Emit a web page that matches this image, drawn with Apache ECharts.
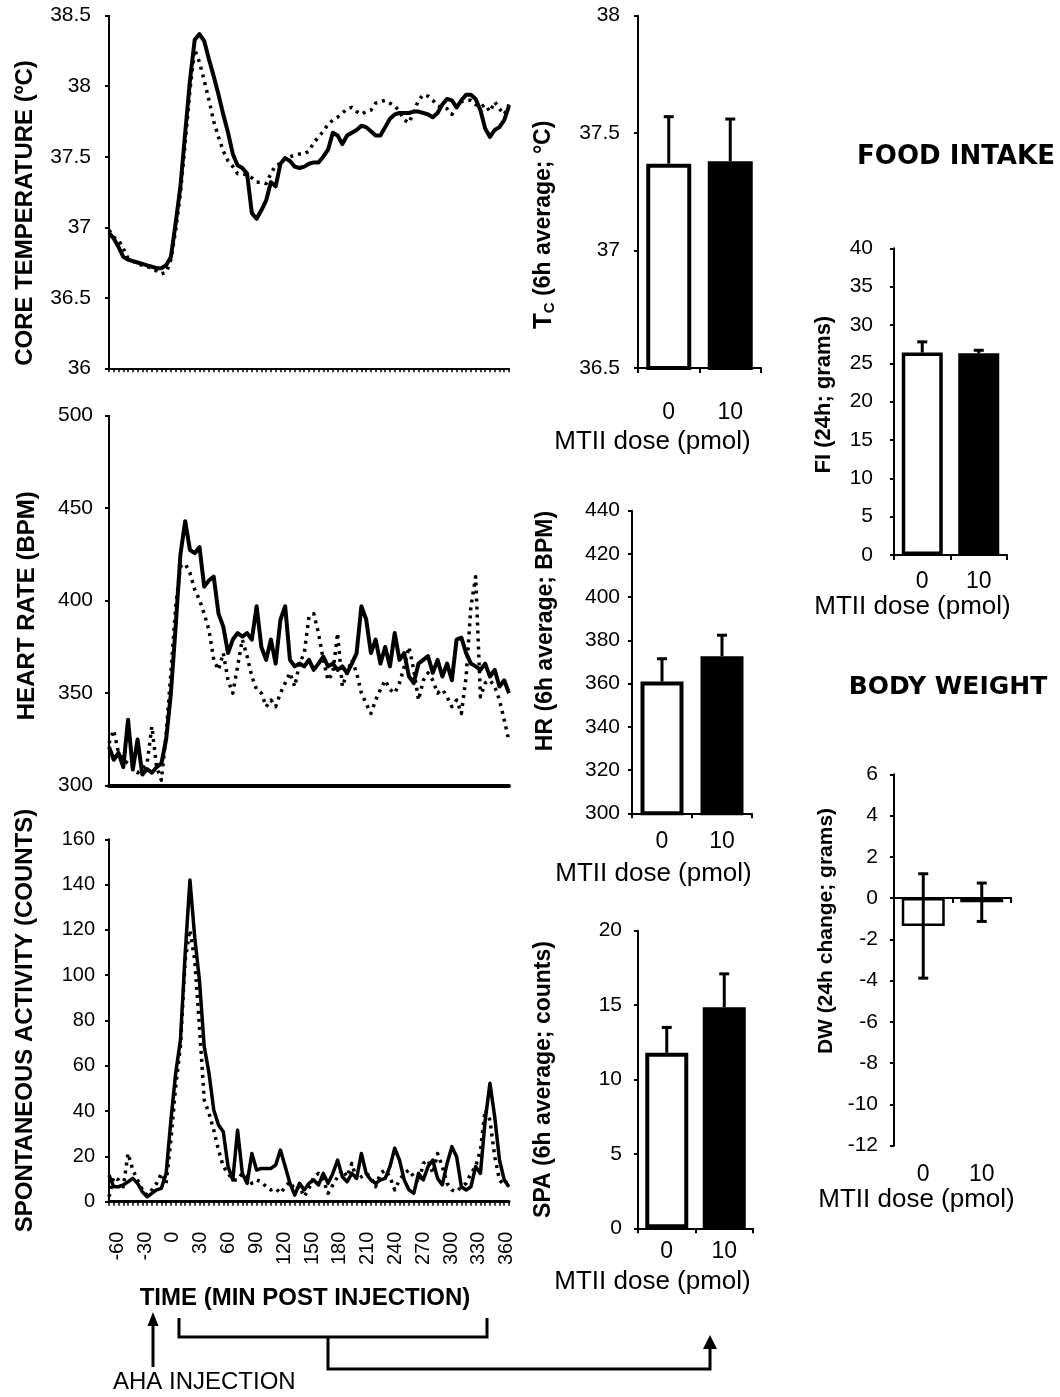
<!DOCTYPE html>
<html><head><meta charset="utf-8">
<script src="https://cdn.jsdelivr.net/npm/echarts@6/dist/echarts.min.js"></script>
<style>html,body{margin:0;padding:0;background:#fff}#c{width:1060px;height:1397px}</style>
</head><body><div id="c"></div>
<script>
// ---------- DATA ----------
const timeMin = [-60,-55,-50,-45,-40,-35,-30,-25,-20,-15,-10,-5,0,5,10,15,20,25,30,35,
 40,45,50,55,60,65,70,75,80,85,90,95,100,105,110,115,120,125,130,135,
 140,145,150,155,160,165,170,175,180,185,190,195,200,205,210,215,220,225,230,235,
 240,245,250,255,260,265,270,275,280,285,290,295,300,305,310,315,320,325,330,335,
 340,345,350,355,360];
const timeTickLabels = [-60,-30,0,30,60,90,120,150,180,210,240,270,300,330,360];

const tempSolid = [36.96,36.92,36.86,36.79,36.77,36.76,36.75,36.74,36.73,36.72,
 36.71,36.71,36.73,36.79,37.03,37.29,37.67,38.04,38.33,38.37,
 38.32,38.19,38.07,37.94,37.80,37.67,37.52,37.44,37.42,37.38,
 37.10,37.06,37.12,37.19,37.32,37.29,37.45,37.49,37.47,37.43,
 37.42,37.43,37.45,37.46,37.46,37.50,37.55,37.67,37.65,37.59,
 37.65,37.67,37.69,37.72,37.71,37.68,37.65,37.65,37.71,37.77,
 37.80,37.81,37.81,37.81,37.82,37.82,37.81,37.80,37.78,37.81,
 37.87,37.91,37.90,37.85,37.90,37.94,37.94,37.91,37.83,37.70,
 37.64,37.69,37.71,37.76,37.86];
const tempDotted = [36.98,36.93,36.91,36.85,36.78,36.76,36.74,36.73,36.72,36.71,
 36.69,36.67,36.68,36.77,36.98,37.24,37.60,37.97,38.26,38.17,
 38.04,37.90,37.75,37.64,37.54,37.47,37.43,37.38,37.38,37.37,
 37.35,37.32,37.32,37.31,37.38,37.44,37.45,37.49,37.50,37.51,
 37.52,37.52,37.54,37.60,37.64,37.68,37.73,37.76,37.78,37.81,
 37.84,37.85,37.82,37.80,37.82,37.83,37.88,37.89,37.90,37.88,
 37.86,37.82,37.76,37.74,37.82,37.90,37.94,37.93,37.90,37.86,
 37.85,37.84,37.80,37.85,37.89,37.90,37.90,37.87,37.85,37.87,
 37.82,37.89,37.84,37.80,37.87];

const hrSolid = [321,314,317.7,310,335.7,308.7,325,306,309,307,
 310,312,325,350,386,425,443,427.5,425.7,429,
 407.6,411,413,393,386,371.7,379,382.5,380.6,382.5,
 379,397,375,368,379,366,389.7,397,368,364.5,
 366,364.5,368,362.6,366,369.8,364.5,366,362.6,364.5,
 360.9,366,371.7,397,390,371.7,379,366,375,364.5,
 382.5,368,371.7,359,355.5,366,368,370,361,368,
 359,366,357,379,380,371.7,366,364.5,362.6,366,
 359,362.6,353.6,357,350];
const hrDotted = [323,330,317.7,314,312,310,307,309,312,332,
 310,303,328,361,397,418.5,420,415,406,400.5,
 393,384,368,362.6,371.7,357,350,364.5,379,370,
 359,352,350,342.7,346.3,342.7,350,355.5,361,353.6,
 366,371.7,391.4,393,382.5,368,357,361,382.5,353.6,
 361,368,361,350,344.5,339,346.3,352,357,352,
 350,355.5,364.5,375,362.6,346.3,357,361,357,350,
 352,348,342.7,346.3,339,359,396.8,413,348,355.5,
 357,353.6,346.3,335.5,324];

const spaSolid = [11.8,6.6,6.6,7.4,8.8,10.3,8.1,4.4,2.2,3.7,
 5.2,5.9,12.5,36,56.7,71.4,109.7,142,116.8,97.6,
 68.5,56.7,40.5,33.9,30.9,15.5,9.6,31.6,12.5,8.1,
 21.3,14,14.7,14.7,14.7,16.2,22.8,15.5,8.1,2.9,
 8.1,5.2,8.1,9.6,7.4,12.5,8.1,12.5,18.4,11,
 8.8,12.5,10.3,21.3,12.5,9.6,8.1,9.6,10.3,15.5,
 23.6,18.4,9.6,5.2,3.7,12.5,9.6,15.5,18.4,10.3,
 7.4,16.9,24.3,19.9,6.6,5.2,6.6,15.5,12.5,36,
 52.3,37.5,18.4,9.6,6.6];
const spaDotted = [2.2,11,9.6,6.6,21.3,14,9.6,5.2,2.9,5.2,
 8.1,12.5,8.1,27.2,50.8,68.5,106.7,120,106.7,77.3,
 44.9,39,31.6,22.8,15.5,12.5,9.6,9.6,12.5,11,
 8.1,9.6,8.8,6.6,5.2,5.9,3.7,6.6,8.8,5.2,
 6.6,2.2,5.9,11,12.5,9.6,3.7,7.4,11,14,
 11,16.9,9.6,11,12.5,11,6.6,12.5,14,11,
 5.2,9.6,12.5,14,11,8.1,16.9,18.4,12.5,21.3,
 15.5,8.1,5.2,4.4,6.6,8.1,12.5,15.5,22.8,40.5,
 36,19.9,9.6,7.4,11];

const doses = ['0','10'];
const tcMean = [37.37, 37.38];
const tcErr = [0.20, 0.18];
const hrMean = [361, 372.7];
const hrErr = [10.5, 9.7];
const spaMean = [11.8, 14.85];
const spaErr = [1.7, 2.25];
const fiMean = [26.4, 26.3];
const fiErr = [1.4, 0.4];
const bwMean = [-1.35, -0.2];
const bwErr = [2.53, 0.93];

// ---------- CHART ----------
const FONT = "'Liberation Sans', Arial, sans-serif";
const K = '#000';
const chart = echarts.init(document.getElementById('c'), null, {renderer:'canvas'});
const pairs = (xs, ys) => xs.map((x, i) => [x, ys[i]]);

function yAx(gi, min, max, interval, o) {
  return {type:'value', gridIndex:gi, min:min, max:max, interval:interval,
    axisLine:{show:true, onZero:false, lineStyle:{color:K, width:2}},
    axisTick:{show:true, length:4, lineStyle:{color:K, width:2}},
    splitLine:{show:false},
    axisLabel:{color:K, fontFamily:FONT, fontSize:o.ls || 21, margin:o.lm},
    name:o.name, nameLocation:'middle', nameGap:o.ng, nameRotate:90,
    nameTextStyle:{color:K, fontFamily:FONT, fontWeight:'bold', fontSize:o.ns || 24,
      padding:o.pad || 0, rich:o.rich}
  };
}
function timeAx(gi, o) {
  return {type:'value', gridIndex:gi, min:-60, max:360, interval:5, position:'bottom',
    axisLine:{show:true, onZero:false, lineStyle:{color:K, width:o.lw}},
    axisTick:{show:o.ticks, length:4, lineStyle:{color:K, width:1.5}},
    axisLabel:{show:false}, splitLine:{show:false}};
}
function catX(gi, o) {
  return {type:'category', gridIndex:gi, data:doses, position:'bottom',
    axisLine:{show:o.line !== false, onZero:!!o.onZero, lineStyle:{color:K, width:2}},
    axisTick:{show:o.line !== false, length:5, lineStyle:{color:K, width:2}},
    axisLabel:{show:o.labels !== false, color:K, fontFamily:FONT, fontSize:23, margin:o.lm},
    splitLine:{show:false},
    name:o.name, nameLocation:'middle', nameGap:o.ng,
    nameTextStyle:{color:K, fontFamily:FONT, fontSize:26, padding:[0, o.pr || 0, 0, 0]}};
}
function lineS(xi, yi, ys, dotted, w) {
  return {type:'line', xAxisIndex:xi, yAxisIndex:yi, data:pairs(timeMin, ys), symbol:'none',
    silent:true, animation:false,
    lineStyle:{color:K, width:w, type:dotted ? [3, 5] : 'solid', cap:'butt', join:'round'}};
}
function barS(xi, yi, means, bw, border) {
  return {type:'bar', xAxisIndex:xi, yAxisIndex:yi, barWidth:bw, animation:false, silent:true,
    data:means.map((v, i) => ({value:v, itemStyle:{color:i ? '#000' : '#fff', borderColor:'#000', borderWidth:border}}))};
}
function errS(xi, yi, means, errs, both) {
  return {type:'custom', xAxisIndex:xi, yAxisIndex:yi, z:5, animation:false, silent:true,
    data:means.map((m, i) => [i, m, errs[i]]),
    renderItem:function(params, api) {
      const c = api.value(0), m = api.value(1), e = api.value(2);
      const top = api.coord([c, m + e]);
      const bot = api.coord([c, both ? m - e : m]);
      const w = 5, st = {stroke:'#000', lineWidth:3};
      const ch = [
        {type:'line', shape:{x1:top[0], y1:top[1], x2:bot[0], y2:bot[1]}, style:st},
        {type:'line', shape:{x1:top[0] - w, y1:top[1], x2:top[0] + w, y2:top[1]}, style:st}];
      if (both) ch.push({type:'line', shape:{x1:bot[0] - w, y1:bot[1], x2:bot[0] + w, y2:bot[1]}, style:st});
      return {type:'group', children:ch};
    }};
}

const option = {
  backgroundColor:'#fff',
  animation:false,
  grid:[
    {left:109, top:15.7, width:400, height:352.6},
    {left:109, top:415.7, width:400, height:370},
    {left:109, top:839.3, width:400, height:362.4},
    {left:638, top:15.7, width:123, height:352.3},
    {left:632, top:510.7, width:120, height:302.6},
    {left:638, top:930.7, width:115, height:297.6},
    {left:894, top:248.3, width:113, height:306.7},
    {left:894, top:774.3, width:117, height:371.4}
  ],
  xAxis:[
    timeAx(0, {lw:2, ticks:true}),
    timeAx(1, {lw:4, ticks:false}),
    timeAx(2, {lw:3, ticks:true}),
    {type:'value', gridIndex:2, min:-68.97, max:362.5, position:'bottom',
      axisLine:{show:false, onZero:false}, axisTick:{show:false}, splitLine:{show:false},
      axisLabel:{show:true, customValues:timeTickLabels, rotate:90, margin:30, color:K, fontFamily:FONT, fontSize:20},
      name:'TIME (MIN POST INJECTION)', nameLocation:'middle', nameGap:85,
      nameTextStyle:{color:K, fontFamily:FONT, fontWeight:'bold', fontSize:24, padding:[0, 8, 0, 0]}},
    catX(3, {lm:33, name:'MTII dose (pmol)', ng:61, pr:94}),
    catX(4, {lm:17, name:'MTII dose (pmol)', ng:48, pr:77}),
    catX(5, {lm:12, name:'MTII dose (pmol)', ng:41, pr:86}),
    catX(6, {lm:15, name:'MTII dose (pmol)', ng:39, pr:76}),
    catX(7, {onZero:true, labels:false}),
    catX(7, {line:false, lm:17, name:'MTII dose (pmol)', ng:36, pr:72})
  ],
  yAxis:[
    yAx(0, 36, 38.5, 0.5, {lm:18, name:'CORE TEMPERATURE (ºC)', ng:72, pad:[0, 42, 0, 0]}),
    yAx(1, 300, 500, 50, {lm:16, name:'HEART RATE (BPM)', ng:70, pad:[0, 10, 0, 0]}),
    yAx(2, 0, 160, 20, {lm:14, ls:20, name:'SPONTANEOUS ACTIVITY (COUNTS)', ng:72}),
    yAx(3, 36.5, 38, 0.5, {lm:18, name:'{t|T}{s|C}{b| (6h average; °C)}', ng:81, pad:[0, 66, 0, 0],
      rich:{t:{fontFamily:FONT, fontSize:26, color:K},
            s:{fontFamily:FONT, fontSize:15, color:K, padding:[12, 0, 0, 0]},
            b:{fontFamily:FONT, fontSize:23, fontWeight:'bold', color:K}}}),
    yAx(4, 300, 440, 20, {lm:12, name:'HR (6h average; BPM)', ng:75, ns:23, pad:[0, 0, 0, 62]}),
    yAx(5, 0, 20, 5, {lm:16, name:'SPA (6h average; counts)', ng:83, ns:23}),
    yAx(6, 0, 40, 5, {lm:21, name:'FI (24h; grams)', ng:59, ns:22, pad:[0, 0, 0, 14]}),
    yAx(7, -12, 6, 2, {lm:16, name:'DW (24h change; grams)', ng:57, ns:21, pad:[0, 0, 0, 58]})
  ],
  series:[
    lineS(0, 0, tempSolid, false, 4),
    lineS(0, 0, tempDotted, true, 3.5),
    lineS(1, 1, hrSolid, false, 4),
    lineS(1, 1, hrDotted, true, 3.5),
    lineS(2, 2, spaSolid, false, 3.5),
    lineS(2, 2, spaDotted, true, 3.5),
    barS(4, 3, tcMean, 45, 4), errS(4, 3, tcMean, tcErr, false),
    barS(5, 4, hrMean, 43, 4), errS(5, 4, hrMean, hrErr, false),
    barS(6, 5, spaMean, 43, 4), errS(6, 5, spaMean, spaErr, false),
    barS(7, 6, fiMean, 41, 3.5), errS(7, 6, fiMean, fiErr, false),
    barS(8, 7, bwMean, 43, 2.5), errS(8, 7, bwMean, bwErr, true)
  ],
  graphic:[
    {type:'text', x:956, y:157, style:{text:'FOOD INTAKE', align:'center', verticalAlign:'middle', font:"bold 26px 'DejaVu Sans', sans-serif", fill:'#000'}},
    {type:'text', x:948, y:687, style:{text:'BODY WEIGHT', align:'center', verticalAlign:'middle', font:"bold 25px 'DejaVu Sans', sans-serif", fill:'#000'}},
    {type:'line', shape:{x1:153, y1:1367, x2:153, y2:1322}, style:{stroke:'#000', lineWidth:3}},
    {type:'polygon', shape:{points:[[153, 1312], [147.5, 1326], [158.5, 1326]]}, style:{fill:'#000'}},
    {type:'polyline', shape:{points:[[179, 1318], [179, 1337], [487, 1337], [487, 1318]]}, style:{stroke:'#000', lineWidth:3, fill:null}},
    {type:'polyline', shape:{points:[[328, 1337], [328, 1369], [710, 1369], [710, 1346]]}, style:{stroke:'#000', lineWidth:3, fill:null}},
    {type:'polygon', shape:{points:[[710, 1335], [703, 1349], [717, 1349]]}, style:{fill:'#000'}},
    {type:'text', x:113, y:1382, style:{text:'AHA INJECTION', align:'left', verticalAlign:'middle', font:"24px 'Liberation Sans', Arial, sans-serif", fill:'#000'}}
  ]
};
chart.setOption(option);
</script>
</body></html>
